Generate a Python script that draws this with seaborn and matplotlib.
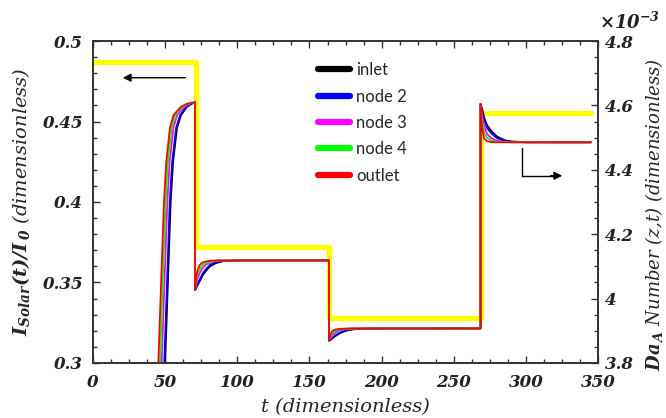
import matplotlib
matplotlib.use('Agg')
import matplotlib.pyplot as plt
from matplotlib.lines import Line2D
from matplotlib.ticker import MultipleLocator, FuncFormatter
import seaborn as sns
import pandas as pd

# yellow step: I_Solar(t)/I_0, left axis
solar_t = [0, 71.2, 71.2, 163.8, 163.8, 268.8, 268.8, 345]
solar_val = [0.487, 0.487, 0.372, 0.372, 0.328, 0.328, 0.4555, 0.4555]

# Da_A number (x 1e-3), right axis
names = ["inlet", "node 2", "node 3", "node 4", "outlet"]
colors = ["#000000", "#0000ff", "#ff00ff", "#00ff00", "#ff0000"]

# start-up rise: time at which each node reaches these levels
rise_levels = [3.55, 3.80, 4.05, 4.30, 4.425, 4.53, 4.57, 4.596, 4.605, 4.61]
rise_inlet = [48.1, 50.0, 51.9, 53.8, 55.5, 58.2, 61.0, 65.2, 68.4, 70.7]
rise_node2 = [47.5, 49.4, 51.3, 53.2, 54.9, 57.6, 60.4, 64.6, 68.0, 70.7]
rise_node3 = [45.7, 47.6, 49.5, 51.5, 53.1, 55.7, 58.3, 63.1, 66.8, 70.7]
rise_node4 = [44.5, 46.4, 48.3, 50.3, 51.9, 54.4, 57.0, 62.0, 65.9, 70.7]
rise_outlet = [43.4, 45.3, 47.2, 49.2, 50.8, 53.3, 55.8, 61.0, 65.0, 70.7]

# after the first step change
t_after = [70.7, 71.5, 72.5, 74, 76, 78, 81, 85, 90, 100, 163.5,
           163.5, 164.5, 166, 168, 171, 175, 180, 190, 268.5,
           268.5, 269.5, 271, 273, 276, 280, 285, 290, 300, 345]
da_inlet = [4.0265, 4.0325, 4.0425, 4.055, 4.0725, 4.085, 4.10, 4.11, 4.116, 4.1185, 4.1185,
            3.8695, 3.8715, 3.8775, 3.884, 3.8925, 3.90, 3.9045, 3.907, 3.9075,
            4.6045, 4.590, 4.562, 4.538, 4.520, 4.503, 4.492, 4.488, 4.4856, 4.4855]
da_node2 = [4.0265, 4.035, 4.045, 4.06, 4.0775, 4.09, 4.105, 4.1125, 4.1165, 4.1185, 4.1185,
            3.8695, 3.8725, 3.879, 3.886, 3.894, 3.901, 3.905, 3.907, 3.9075,
            4.6045, 4.585, 4.555, 4.530, 4.513, 4.498, 4.490, 4.487, 4.4855, 4.4855]
da_node3 = [4.0265, 4.045, 4.0625, 4.08, 4.095, 4.105, 4.1125, 4.1165, 4.118, 4.1185, 4.1185,
            3.8695, 3.8775, 3.8875, 3.895, 3.901, 3.905, 3.9065, 3.9075, 3.9075,
            4.6045, 4.570, 4.535, 4.511, 4.498, 4.490, 4.4865, 4.4857, 4.4855, 4.4855]
da_node4 = [4.0265, 4.055, 4.075, 4.0925, 4.105, 4.11, 4.115, 4.118, 4.1185, 4.1185, 4.1185,
            3.8695, 3.8825, 3.894, 3.90, 3.904, 3.906, 3.907, 3.9075, 3.9075,
            4.6045, 4.555, 4.515, 4.499, 4.491, 4.487, 4.4857, 4.4855, 4.4855, 4.4855]
da_outlet = [4.0265, 4.065, 4.09, 4.105, 4.1125, 4.115, 4.1175, 4.1185, 4.1185, 4.1185, 4.1185,
             3.8695, 3.89, 3.90, 3.904, 3.906, 3.907, 3.9075, 3.9075, 3.9075,
             4.6045, 4.53, 4.497, 4.489, 4.486, 4.4855, 4.4855, 4.4855, 4.4855, 4.4855]

rises = [rise_inlet, rise_node2, rise_node3, rise_node4, rise_outlet]
afters = [da_inlet, da_node2, da_node3, da_node4, da_outlet]

frames = []
for name, r, a in zip(names, rises, afters):
    frames.append(pd.DataFrame({"t": r + t_after, "Da": rise_levels + a, "node": name}))
df = pd.concat(frames, ignore_index=True)

sns.set_style("ticks")
plt.rcParams['font.family'] = ['DejaVu Serif']
plt.rcParams['mathtext.fontset'] = 'dejavuserif'
plt.rcParams['font.weight'] = 'bold'
plt.rcParams['font.style'] = 'italic'

fig = plt.figure(figsize=(6.66, 4.18), dpi=100)
ax = fig.add_axes([0.1396, 0.1316, 0.7586, 0.7703])
ax2 = ax.twinx()

sns.lineplot(x=solar_t, y=solar_val, color="#ffff00", lw=3.8, sort=False,
             estimator=None, ax=ax)
sns.lineplot(data=df, x="t", y="Da", hue="node", hue_order=names, palette=colors,
             sort=False, estimator=None, lw=1.3, legend=False, ax=ax2)

ax.set_xlim(0, 350)
ax.set_ylim(0.3, 0.5)
ax2.set_ylim(3.8, 4.8)

ax.xaxis.set_major_locator(MultipleLocator(50))
ax.xaxis.set_minor_locator(MultipleLocator(12.5))
ax.yaxis.set_major_locator(MultipleLocator(0.05))
ax.yaxis.set_minor_locator(MultipleLocator(0.01))
ax2.yaxis.set_major_locator(MultipleLocator(0.2))
ax2.yaxis.set_minor_locator(MultipleLocator(0.05))
fmt = FuncFormatter(lambda v, p: "%g" % round(v, 4))
ax.yaxis.set_major_formatter(fmt)
ax2.yaxis.set_major_formatter(fmt)

tc = "#333333"
ax.tick_params(axis='x', which='both', direction='in', top=True, colors=tc,
               labelcolor='#222222', labelsize=12, pad=8)
ax.tick_params(axis='y', which='both', direction='in', right=False, colors=tc,
               labelcolor='#222222', labelsize=12, pad=7)
ax2.tick_params(axis='y', which='both', direction='in', colors=tc,
                labelcolor='#222222', labelsize=12, pad=5)
for a in (ax, ax2):
    a.tick_params(which='major', length=5, width=1)
    a.tick_params(which='minor', length=3, width=1)
    for s in a.spines.values():
        s.set_color(tc)
        s.set_linewidth(1.2)

ax.set_xlabel("t (dimensionless)", fontsize=14, labelpad=5)
ax.set_ylabel(r"$I_{Solar}(t)/I_{\,0}$ (dimensionless)", fontsize=14, labelpad=8)
ax2.set_ylabel(r"$Da_{\,A}$ Number (z,t) (dimensionless)", fontsize=13)
ax2.yaxis.set_label_coords(1.088, 0.46)
fig.text(0.9, 0.93, r"$\times\mathit{10}^{\mathit{-3}}$", fontsize=13, color='#222222')

# direction arrows
ax.annotate("", xy=(18.7, 0.4772), xytext=(66, 0.4772),
            arrowprops=dict(arrowstyle='-|>', color='k', lw=1, mutation_scale=12))
ax.plot([297.5, 297.5, 320], [0.4334, 0.4163, 0.4163], color='k', lw=1)
ax.annotate("", xy=(327, 0.4163), xytext=(315, 0.4163),
            arrowprops=dict(arrowstyle='-|>', color='k', lw=1, mutation_scale=12))

handles = [Line2D([0], [0], color=c, lw=4.5) for c in colors]
ax2.legend(handles, names, frameon=False, loc='upper left',
           bbox_to_anchor=(0.4775, 0.851), bbox_transform=fig.transFigure,
           borderpad=0, borderaxespad=0, handlelength=1.9, handletextpad=0.4,
           labelspacing=0.62,
           prop={'family': 'Lato', 'size': 12, 'weight': 'normal', 'style': 'normal'})

fig.savefig("out.png", dpi=100)
